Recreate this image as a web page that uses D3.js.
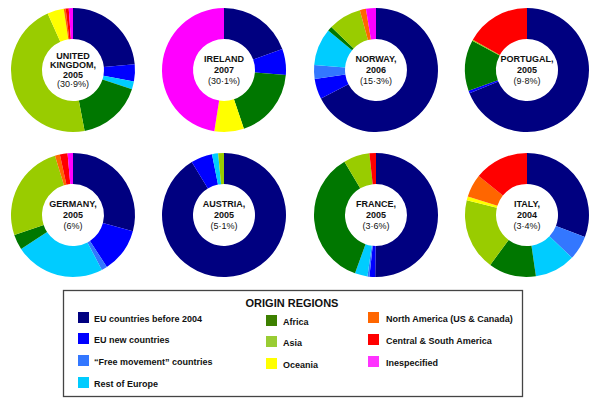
<!DOCTYPE html>
<html>
<head>
<meta charset="utf-8">
<script src="https://cdn.jsdelivr.net/npm/d3@7"></script>
<style>
  html, body { margin: 0; padding: 0; background: #fff; }
  svg { display: block; font-family: "Liberation Sans", Arial, Helvetica, sans-serif; }
</style>
</head>
<body>
<svg id="chart" width="600" height="401"></svg>
<script>
// Origin regions (legend categories)
const regions = [
  "EU countries before 2004",
  "EU new countries",
  "\u201CFree movement\u201D countries",
  "Rest of Europe",
  "Africa",
  "Asia",
  "Oceania",
  "North America (US & Canada)",
  "Central & South America",
  "Inespecified"
];
const regionColors = ["#000080", "#0000ff", "#3377ff", "#00ccff", "#007700", "#99cc00", "#ffff00", "#ff6600", "#ff0000", "#ff00ff"];
const legendColors = ["#000080", "#0000ff", "#3377ff", "#00ccff", "#3d8000", "#99cc33", "#ffff00", "#ff6600", "#ff0000", "#ff33ff"];

// Country labels
const countries = ["UK", "Ireland", "Norway", "Portugal", "Germany", "Austria", "France", "Italy"];
const countryLabels = [
  ["UNITED", "KINGDOM,", "2005", "(30\u00B79%)"],
  ["IRELAND", "2007", "(30\u00B71%)"],
  ["NORWAY,", "2006", "(15\u00B73%)"],
  ["PORTUGAL,", "2005", "(9\u00B78%)"],
  ["GERMANY,", "2005", "(6%)"],
  ["AUSTRIA,", "2005", "(5\u00B71%)"],
  ["FRANCE,", "2005", "(3\u00B76%)"],
  ["ITALY,", "2004", "(3\u00B74%)"]
];

// Shares (%) by origin region, in the order of `regions`
const ukShares       = [23.5, 4.5, 0,   2.0, 17.0, 46.3, 4.3, 0.5, 0.8, 1.1];
const irelandShares  = [19.5, 6.8, 0,   0,   18.5, 0,    7.7, 0,   0,   47.5];
const norwayShares   = [67.4, 5.3, 3.6, 9.7, 1.2,  8.6,  0,   1.6, 0,   2.6];
const portugalShares = [68.9, 0.7, 0,   0,   13.2, 0.3,  0,   0,   16.9, 0];
const germanyShares  = [29.2, 11.6, 1.5, 23.5, 4.0, 25.5, 0,  1.3, 2.0, 1.4];
const austriaShares  = [91.3, 5.6, 0,   1.6, 0,    1.5,  0,   0,   0,   0];
const franceShares   = [50.2, 1.5, 0.5, 3.3, 36.0, 6.8,  0,   0,   1.7, 0];
const italyShares    = [30.8, 0,   6.3, 10.6, 12.4, 18.7, 1.0, 6.0, 14.2, 0];
const allShares = [ukShares, irelandShares, norwayShares, portugalShares, germanyShares, austriaShares, franceShares, italyShares];

const svg = d3.select("#chart");

const colX = [73, 224, 376, 527];
const rowY = [70, 215];
const outerR = 62, innerR = 31;

const color = d3.scaleOrdinal().domain(regions).range(regionColors);
const pie = d3.pie().sort(null).value(d => d.v);
const arc = d3.arc().innerRadius(innerR).outerRadius(outerR);

countries.forEach((c, i) => {
  const cx = colX[i % 4], cy = rowY[Math.floor(i / 4)];
  const g = svg.append("g").attr("transform", `translate(${cx},${cy})`);
  const data = regions.map((r, k) => ({ r, v: allShares[i][k] }));
  g.selectAll("path")
    .data(pie(data).filter(d => d.data.v > 0))
    .join("path")
    .attr("d", arc)
    .attr("fill", d => color(d.data.r));
  const lines = countryLabels[i];
  const lh = lines.length === 4 ? 9.5 : 11;
  const y0 = -(lines.length - 1) * lh / 2;
  lines.forEach((t, j) => {
    g.append("text")
      .attr("x", 0)
      .attr("y", y0 + j * lh)
      .attr("dy", "0.35em")
      .attr("text-anchor", "middle")
      .attr("font-size", 9)
      .attr("font-weight", j === lines.length - 1 ? "normal" : "bold")
      .attr("fill", "#111")
      .text(t);
  });
});

// Legend
const lg = svg.append("g");
lg.append("rect")
  .attr("x", 63.5).attr("y", 290.5).attr("width", 459).attr("height", 106)
  .attr("fill", "#fff").attr("stroke", "#444").attr("stroke-width", 1.3);
lg.append("text")
  .attr("x", 292).attr("y", 307)
  .attr("text-anchor", "middle")
  .attr("font-size", 11).attr("font-weight", "bold")
  .attr("fill", "#111")
  .text("ORIGIN REGIONS");

const legendCols = [
  { x: 78, tx: 94, items: [0, 1, 2, 3], ys: [312, 333, 355, 377] },
  { x: 266, tx: 283, items: [4, 5, 6], ys: [315, 336, 358] },
  { x: 368, tx: 386, items: [7, 8, 9], ys: [312, 334, 356] }
];
legendCols.forEach(col => {
  col.items.forEach((k, j) => {
    const y = col.ys[j];
    lg.append("rect").attr("x", col.x).attr("y", y).attr("width", 11).attr("height", 11)
      .attr("fill", legendColors[k]);
    lg.append("text").attr("x", col.tx).attr("y", y + 9.5)
      .attr("font-size", 9).attr("font-weight", "bold").attr("fill", "#111")
      .text(regions[k]);
  });
});
</script>
</body>
</html>
